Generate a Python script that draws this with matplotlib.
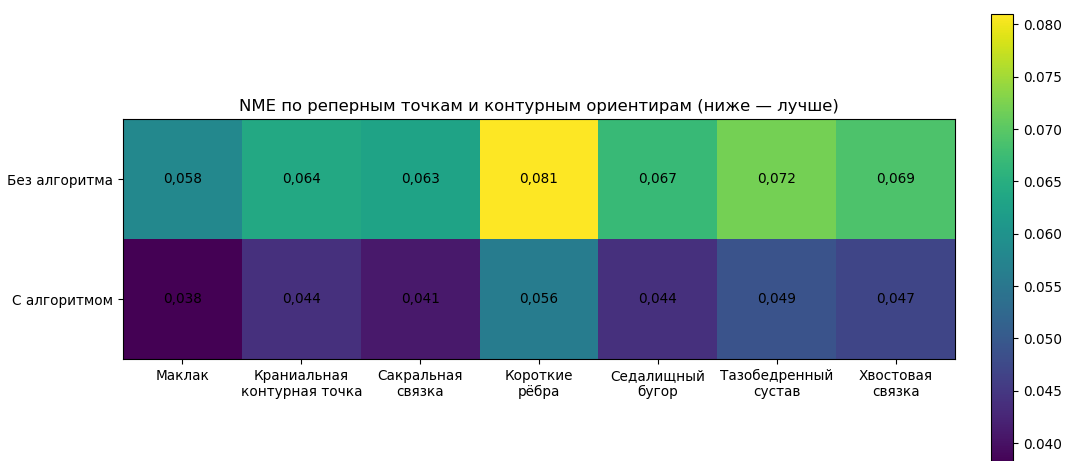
import numpy as np
import matplotlib
matplotlib.use("Agg")
import matplotlib.pyplot as plt

rows = ["Без алгоритма", "С алгоритмом"]
cols = ["Маклак", "Краниальная\nконтурная точка", "Сакральная\nсвязка",
        "Короткие\nрёбра", "Седалищный\nбугор", "Тазобедренный\nсустав",
        "Хвостовая\nсвязка"]
without_alg = [0.058, 0.064, 0.063, 0.081, 0.067, 0.072, 0.069]
with_alg = [0.038, 0.044, 0.041, 0.056, 0.044, 0.049, 0.047]

data = np.array([without_alg, with_alg])

plt.rcParams["font.size"] = 9.85

W, H = 1071, 461
fig = plt.figure(figsize=(W / 100, H / 100), dpi=100)
ax = fig.add_axes([123 / W, (H - 359) / H, (955 - 123) / W, (359 - 119) / H])
im = ax.imshow(data, cmap="viridis", aspect="auto")
ax.set_xticks(range(len(cols)))
ax.set_xticklabels(cols)
ax.set_yticks(range(len(rows)))
ax.set_yticklabels(rows)
ax.set_title("NME по реперным точкам и контурным ориентирам (ниже — лучше)",
             fontsize=11.85)

for i in range(data.shape[0]):
    for j in range(data.shape[1]):
        ax.text(j, i, f"{data[i, j]:.3f}".replace(".", ","),
                ha="center", va="center", color="black")

cax = fig.add_axes([991 / W, (H - 464) / H, (1013 - 991) / W, (464 - 14) / H])
cb = fig.colorbar(im, cax=cax)
cb.set_ticks([0.040, 0.045, 0.050, 0.055, 0.060, 0.065, 0.070, 0.075, 0.080])
cb.ax.yaxis.set_major_formatter(matplotlib.ticker.FormatStrFormatter("%.3f"))

fig.savefig("out.png", dpi=100)
